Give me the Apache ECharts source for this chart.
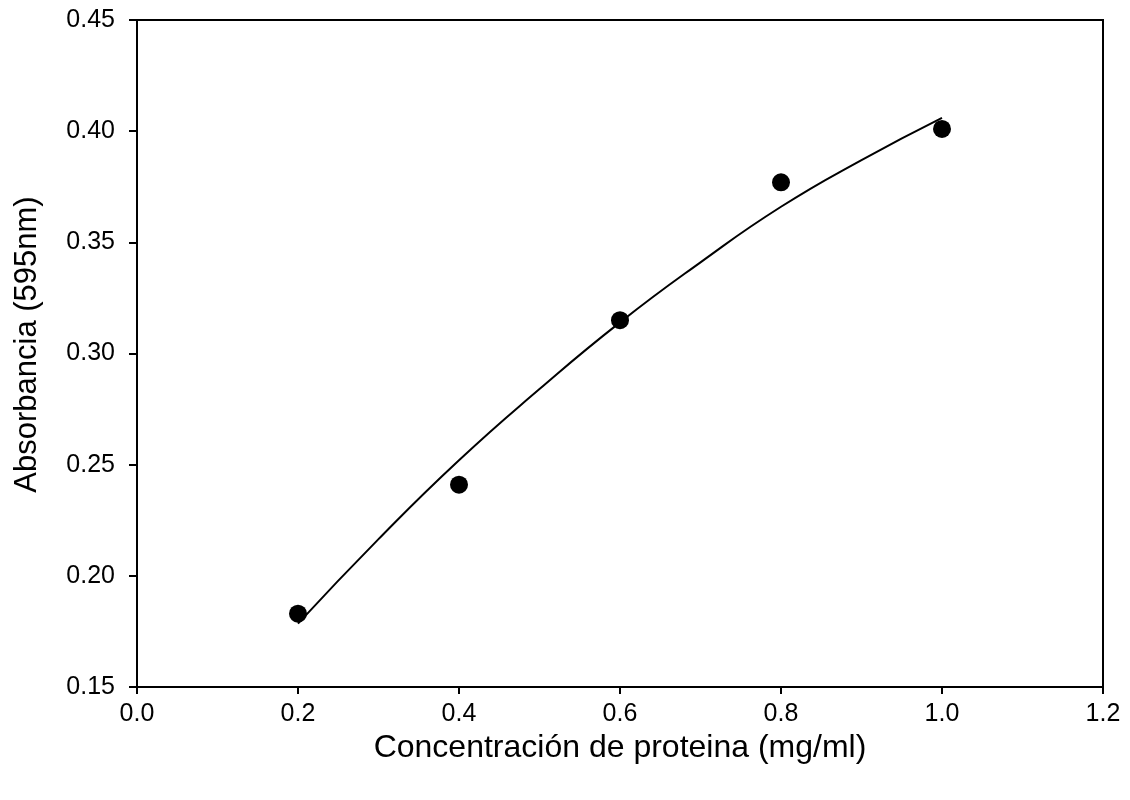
<!DOCTYPE html>
<html>
<head>
<meta charset="utf-8">
<script src="https://cdn.jsdelivr.net/npm/echarts@6/dist/echarts.min.js"></script>
<style>
  html, body { margin: 0; padding: 0; background: #fff; }
  #chart { width: 1130px; height: 800px; }
</style>
</head>
<body>
<div id="chart"></div>
<script>
// Measured protein concentrations (mg/ml) and absorbance at 595 nm
const concentration = [0.2, 0.4, 0.6, 0.8, 1.0];
const absorbance = [0.183, 0.241, 0.315, 0.377, 0.401];

// Fitted calibration curve, sampled along the concentration range
const fitX = [0.2, 0.3, 0.4, 0.5, 0.6, 0.7, 0.8, 0.9, 1.0];
const fitY = [0.1785, 0.2165, 0.252, 0.284, 0.314, 0.341, 0.366, 0.387, 0.406];

const xTitle = 'Concentración de proteina (mg/ml)';
const yTitle = 'Absorbancia (595nm)';

const font = '"Liberation Sans", Arial, sans-serif';

const chart = echarts.init(document.getElementById('chart'));

chart.setOption({
  animation: false,
  backgroundColor: '#fff',
  grid: {
    left: 137, right: 27, top: 20, bottom: 113,
    show: true, borderColor: '#000', borderWidth: 2
  },
  xAxis: {
    type: 'value', min: 0, max: 1.2, interval: 0.2,
    name: xTitle, nameLocation: 'middle', nameGap: 45,
    nameTextStyle: { color: '#000', fontFamily: font, fontSize: 32 },
    axisLine: { show: true, lineStyle: { color: '#000', width: 2 } },
    axisTick: { show: true, inside: false, length: 7, lineStyle: { color: '#000', width: 2 } },
    axisLabel: { color: '#000', fontFamily: font, fontSize: 25, margin: 15,
      formatter: v => v.toFixed(1) },
    splitLine: { show: false }
  },
  yAxis: {
    type: 'value', min: 0.15, max: 0.45, interval: 0.05,
    name: yTitle, nameLocation: 'middle', nameGap: 94,
    nameTextStyle: { color: '#000', fontFamily: font, fontSize: 31, padding: [0, 0, 0, 18] },
    axisLine: { show: true, lineStyle: { color: '#000', width: 2 } },
    axisTick: { show: true, inside: false, length: 8, lineStyle: { color: '#000', width: 2 } },
    axisLabel: { color: '#000', fontFamily: font, fontSize: 25, margin: 22,
      formatter: v => v.toFixed(2) },
    splitLine: { show: false }
  },
  series: [
    {
      type: 'line',
      data: fitX.map((x, i) => [x, fitY[i]]),
      smooth: true,
      showSymbol: false,
      lineStyle: { color: '#000', width: 2 },
      z: 2
    },
    {
      type: 'scatter',
      data: concentration.map((x, i) => [x, absorbance[i]]),
      symbol: 'circle',
      symbolSize: 18,
      itemStyle: { color: '#000', opacity: 1 },
      z: 3
    }
  ]
});
</script>
</body>
</html>
